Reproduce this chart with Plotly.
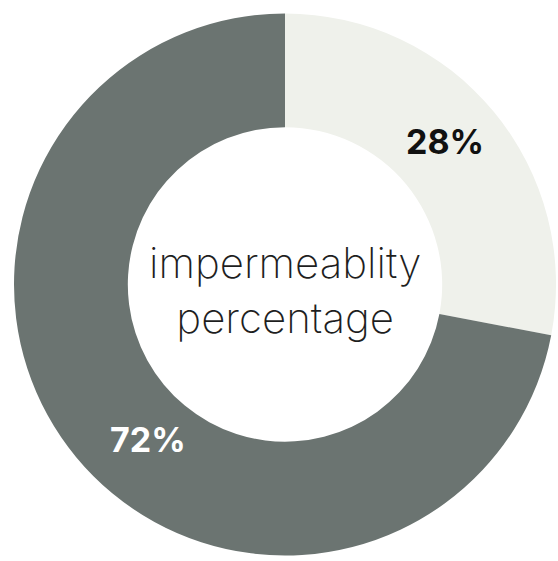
import plotly.graph_objects as go

# share of the two slices, clockwise from 12 o'clock
labels = ["permeable", "impermeable"]
values = [28, 72]
value_text = ["28%", "72%"]
slice_colors = ["#eff1eb", "#6b7471"]
text_colors = ["#111111", "#ffffff"]
center_text = "impermeablity<br>percentage"

fig = go.Figure()

fig.add_trace(
    go.Pie(
        labels=labels,
        values=values,
        hole=0.58,
        sort=False,
        direction="clockwise",
        rotation=0,
        marker=dict(colors=slice_colors, line=dict(width=0)),
        textinfo="none",
        hoverinfo="label+percent",
        showlegend=False,
    )
)

# percentage labels, placed roughly where the original put them
label_pos = [(0.795, 0.764), (0.247, 0.214)]
for txt, col, (px, py) in zip(value_text, text_colors, label_pos):
    fig.add_annotation(
        x=px, y=py, xref="paper", yref="paper",
        xanchor="center", yanchor="middle",
        text=txt, showarrow=False,
        font=dict(family="Inter", size=34, color=col, weight=700),
    )

fig.add_annotation(
    x=0.5, y=0.49, xref="paper", yref="paper",
    xanchor="center", yanchor="middle",
    text=center_text, showarrow=False,
    font=dict(family="Inter", size=42, color="#1e1e1e", weight=200),
)

fig.update_layout(
    width=558, height=561,
    margin=dict(l=14, r=2, t=13, b=5),
    paper_bgcolor="white",
    plot_bgcolor="white",
)

# page has a default body margin that shifts the figure, drop it
fig.write_html(
    "out.html",
    config={"displayModeBar": False},
    post_script="document.body.style.margin='0';",
)
